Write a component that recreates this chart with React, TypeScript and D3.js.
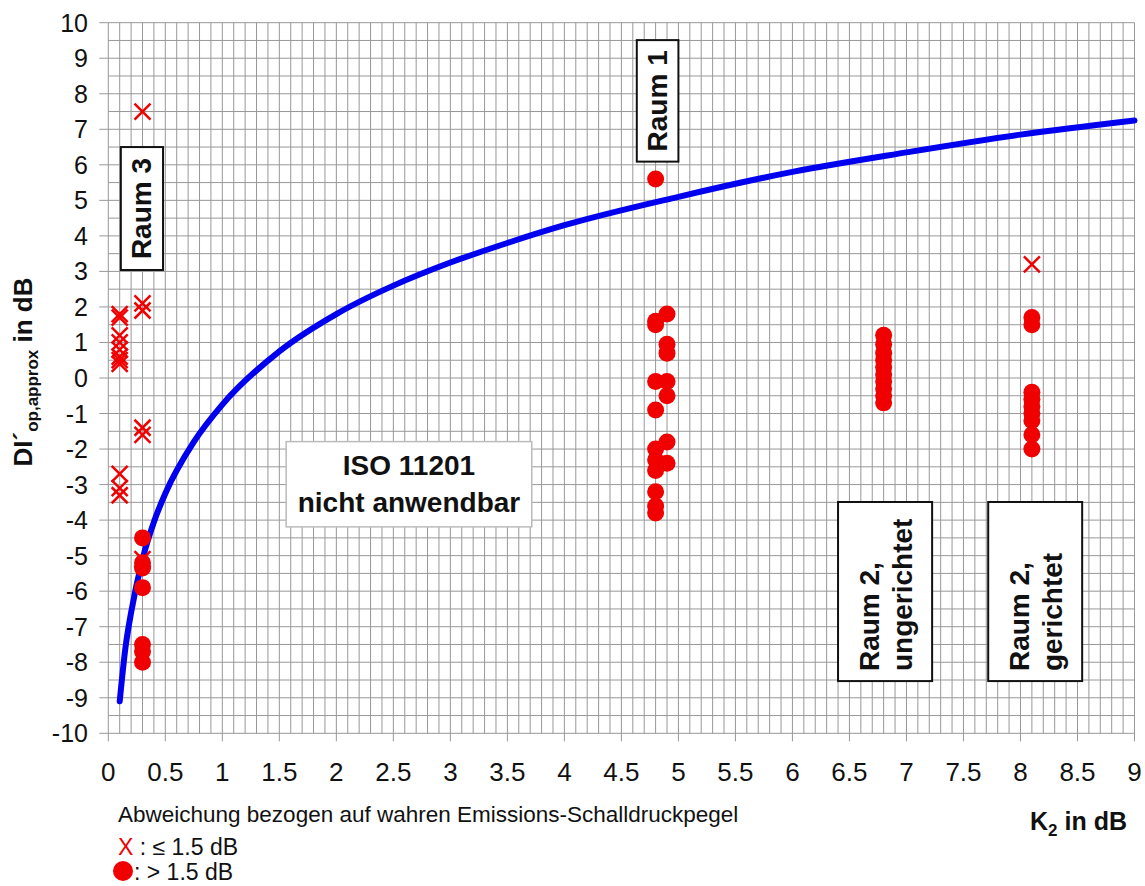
import * as d3 from 'd3'

// K2 in dB / DI'op,approx in dB
const crossK01 = [1.8, 1.7, 1.2, 1.0, 0.8, 0.6, 0.5, 0.4, -2.7, -3.1, -3.3]
const crossK03 = [7.5, 2.1, 1.9, -1.4, -1.6, -5.1]
const crossK81 = [3.2]

const dotK03 = [-4.5, -5.2, -5.35, -5.9, -7.5, -7.7, -8.0]
const dotK48 = [5.6, 1.6, 1.5, -0.1, -0.9, -2.0, -2.3, -2.6, -3.2, -3.6, -3.8]
const dotK49 = [1.8, 0.95, 0.7, -0.1, -0.5, -1.8, -2.4]
const dotK68 = [1.2, 0.95, 0.7, 0.5, 0.3, 0.1, -0.1, -0.3, -0.5, -0.7]
const dotK81 = [1.7, 1.5, -0.4, -0.6, -0.8, -1.0, -1.2, -1.6, -2.0]

const curveK = [0.1, 0.15, 0.2, 0.3, 0.4, 0.5, 0.75, 1, 1.5, 2, 2.5, 3, 3.5, 4, 5, 6, 7, 8, 9]
const curveDI = [-9.1, -7.6, -6.6, -5.1, -4.05, -3.25, -1.8, -0.75, 0.75, 1.8, 2.6, 3.25, 3.8, 4.3, 5.1, 5.8, 6.35, 6.85, 7.25]

const xTicks = d3.range(0, 9.01, 0.5)
const yTicks = d3.range(-10, 10.01, 1)

const FONT = '"Liberation Sans", Arial, sans-serif'
const RED = '#f00000'

const W = 1145
const H = 886

export default function App() {
  const x = d3.scaleLinear().domain([0, 9]).range([108.3, 1134.5])
  const y = d3.scaleLinear().domain([-10, 10]).range([733.3, 22.7])

  const crosses = [
    ...crossK01.map(v => [0.1, v]),
    ...crossK03.map(v => [0.3, v]),
    ...crossK81.map(v => [8.1, v])
  ]
  const dots = [
    ...dotK03.map(v => [0.3, v]),
    ...dotK48.map(v => [4.8, v]),
    ...dotK49.map(v => [4.9, v]),
    ...dotK68.map(v => [6.8, v]),
    ...dotK81.map(v => [8.1, v])
  ]

  const line = d3.line<number>()
    .x((_, i) => x(curveK[i]))
    .y(d => y(d))
    .curve(d3.curveMonotoneX)

  const vLines = d3.range(0, 91).map(i => i / 10)
  const hLines = d3.range(-20, 21).map(i => i / 2)

  // annotation boxes in data units
  const box = (k0, k1, d0, d1) => ({
    x: x(k0), y: y(d0), w: x(k1) - x(k0), h: y(d1) - y(d0)
  })
  const raum3 = box(0.11, 0.48, 6.5, 3.04)
  const raum1 = box(4.635, 5.0, 9.51, 6.09)
  const iso = box(1.56, 3.714, -1.79, -4.19)
  const raum2u = box(6.4, 7.225, -3.49, -8.53)
  const raum2g = box(7.717, 8.541, -3.49, -8.53)

  const boxStyle = { fill: 'white', stroke: '#111', strokeWidth: 2 }
  const label = { fontFamily: FONT, fontWeight: 700, fontSize: 28, fill: '#111' }

  return (
    <>
      <style>{'body{margin:0}'}</style>
      <svg width={W} height={H} style={{ display: 'block', background: 'white' }}>
        {/* grid */}
        <g stroke="#989898" strokeWidth={1}>
          {vLines.map(v => (
            <line key={'v' + v} x1={x(v)} x2={x(v)} y1={y(10)} y2={y(-10)} />
          ))}
          {hLines.map(v => (
            <line key={'h' + v} x1={x(0)} x2={x(9)} y1={y(v)} y2={y(v)} />
          ))}
          {yTicks.map(v => (
            <line key={'yt' + v} x1={x(0) - 9} x2={x(0)} y1={y(v)} y2={y(v)} />
          ))}
          {xTicks.map(v => (
            <line key={'xt' + v} x1={x(v)} x2={x(v)} y1={y(-10)} y2={y(-10) + 8} />
          ))}
        </g>

        {/* tick labels */}
        {yTicks.map(v => (
          <text key={'yl' + v} x={88} y={y(v)} textAnchor="end" dominantBaseline="central"
            fontFamily={FONT} fontSize={25} fill="#111">{v}</text>
        ))}
        {xTicks.map(v => (
          <text key={'xl' + v} x={x(v)} y={781} textAnchor="middle"
            fontFamily={FONT} fontSize={26} fill="#111">{String(v)}</text>
        ))}

        {/* annotation boxes */}
        <rect x={raum3.x} y={raum3.y} width={raum3.w} height={raum3.h} {...boxStyle} />
        <text transform={`translate(${raum3.x + raum3.w / 2},${raum3.y + raum3.h / 2}) rotate(-90)`}
          textAnchor="middle" dominantBaseline="central" {...label}>Raum 3</text>

        <rect x={raum1.x} y={raum1.y} width={raum1.w} height={raum1.h} {...boxStyle} />
        <text transform={`translate(${raum1.x + raum1.w / 2},${raum1.y + raum1.h / 2}) rotate(-90)`}
          textAnchor="middle" dominantBaseline="central" {...label}>Raum 1</text>

        <rect x={iso.x} y={iso.y} width={iso.w} height={iso.h} {...boxStyle} stroke="#bbb" strokeWidth={1.5} />
        <text x={iso.x + iso.w / 2} y={475} textAnchor="middle" {...label}>ISO 11201</text>
        <text x={iso.x + iso.w / 2} y={512} textAnchor="middle" {...label}>nicht anwendbar</text>

        {[[raum2u, 'ungerichtet'], [raum2g, 'gerichtet']].map(([b, t]: any) => (
          <g key={t}>
            <rect x={b.x} y={b.y} width={b.w} height={b.h} {...boxStyle} />
            <text transform={`translate(${b.x + b.w / 2 - 16},${b.y + b.h - 10}) rotate(-90)`}
              dominantBaseline="central" {...label}>Raum 2,</text>
            <text transform={`translate(${b.x + b.w / 2 + 17},${b.y + b.h - 10}) rotate(-90)`}
              dominantBaseline="central" {...label}>{t}</text>
          </g>
        ))}

        {/* curve */}
        <path d={line(curveDI) || ''} fill="none" stroke="#0000ee" strokeWidth={6} strokeLinecap="round" />

        {/* crosses */}
        <g stroke={RED} strokeWidth={2.5}>
          {crosses.map(([k, v], i) => (
            <g key={'c' + i} transform={`translate(${x(k)},${y(v)})`}>
              <line x1={-8} y1={-8} x2={8} y2={8} />
              <line x1={-8} y1={8} x2={8} y2={-8} />
            </g>
          ))}
        </g>

        {/* dots */}
        {dots.map(([k, v], i) => (
          <circle key={'d' + i} cx={x(k)} cy={y(v)} r={8.5} fill={RED} />
        ))}

        {/* axis titles */}
        <text transform="translate(32,372) rotate(-90)" textAnchor="middle"
          fontFamily={FONT} fontWeight={700} fontSize={26} fill="#111">
          DI´<tspan fontSize={17} dy={6}>op,approx</tspan><tspan dy={-6}> in dB</tspan>
        </text>
        <text x={1127} y={830} textAnchor="end" fontFamily={FONT} fontWeight={700} fontSize={25} fill="#111">
          K<tspan fontSize={17} dy={6}>2</tspan><tspan dy={-6}> in dB</tspan>
        </text>

        {/* legend */}
        <text x={118} y={822} fontFamily={FONT} fontSize={22.5} fill="#111">
          Abweichung bezogen auf wahren Emissions-Schalldruckpegel
        </text>
        <text x={118} y={855} fontFamily={FONT} fontSize={23} fill="#111">
          <tspan fill={RED}>X</tspan> : ≤ 1.5 dB
        </text>
        <circle cx={123} cy={871} r={10} fill={RED} />
        <text x={134} y={880} fontFamily={FONT} fontSize={23} fill="#111">: &gt; 1.5 dB</text>
      </svg>
    </>
  )
}
